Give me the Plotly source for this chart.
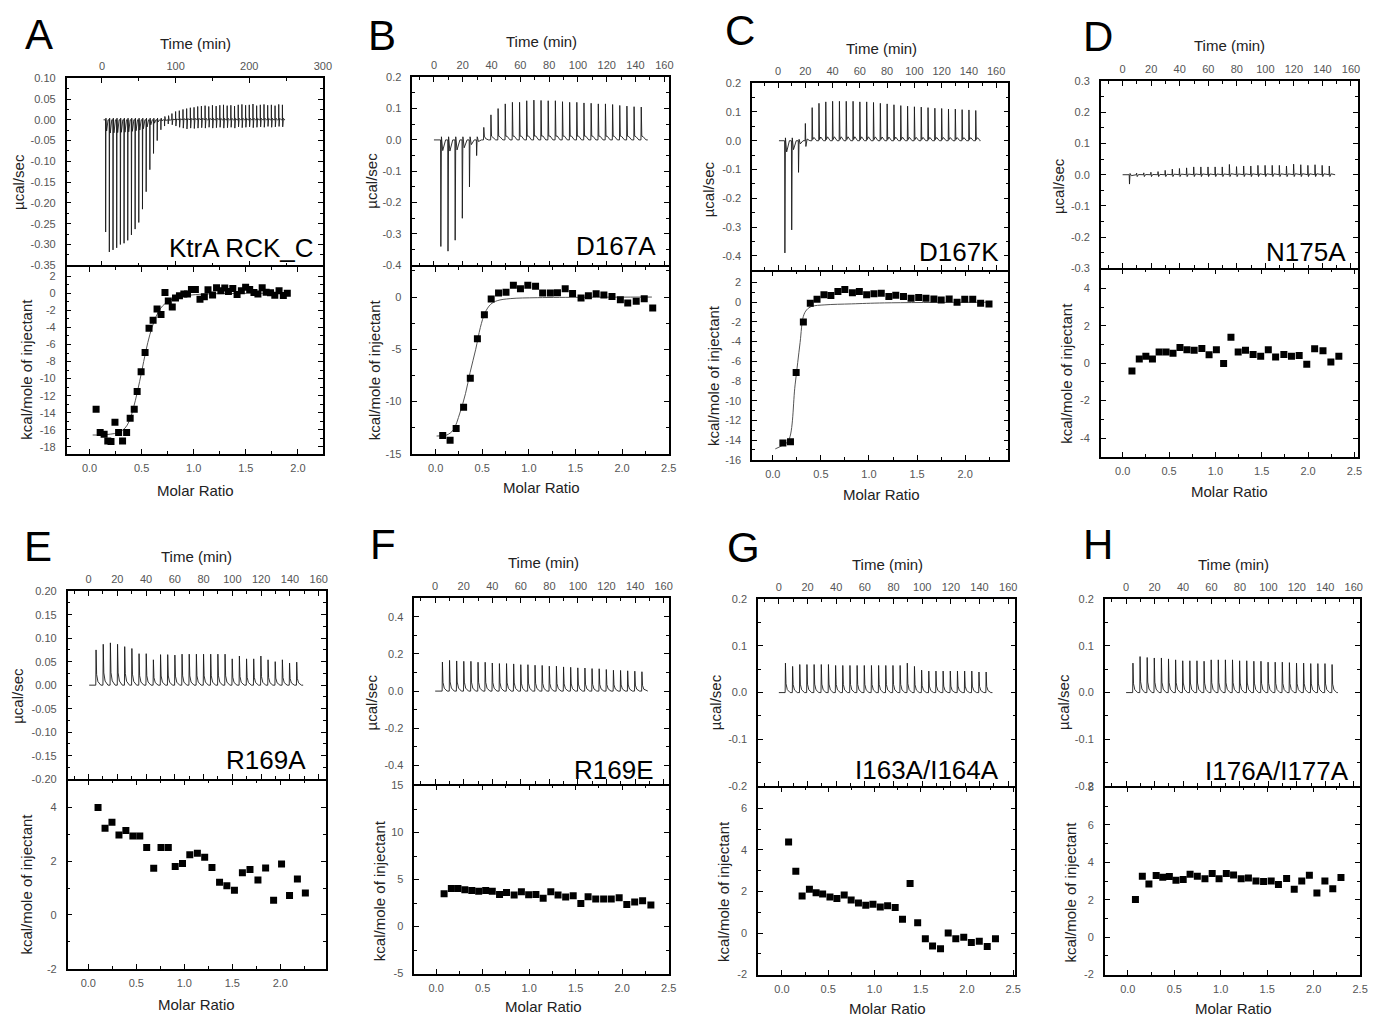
import math
import plotly.graph_objects as go

# the page body keeps its default 8 px margin: the figure's origin sits 8 px in from the window corner
FW, FH = 1377, 1024
BODY = 8

# ---------------- DATA ----------------
labels = ["KtrA RCK_C", "D167A", "D167K", "N175A", "R169A", "R169E", "I163A/I164A", "I176A/I177A"]
letters = ["A", "B", "C", "D", "E", "F", "G", "H"]

# integrated heats (molar ratio, kcal/mol of injectant)
A_ratio = [0.063, 0.102, 0.140, 0.175, 0.206, 0.244, 0.279, 0.317, 0.356, 0.390, 0.429, 0.457, 0.495, 0.533, 0.571,
           0.610, 0.648, 0.686, 0.724, 0.756, 0.794, 0.825, 0.863, 0.905, 0.940, 0.978, 1.016, 1.060, 1.102, 1.137,
           1.181, 1.219, 1.260, 1.298, 1.333, 1.375, 1.416, 1.457, 1.498, 1.537, 1.578, 1.616, 1.657, 1.695, 1.737,
           1.778, 1.819, 1.860, 1.898]
A_heat = [-13.6, -16.3, -16.5, -17.3, -17.35, -15.1, -16.3, -17.3, -16.3, -14.65, -13.6, -11.5, -9.2, -6.95, -4.1,
          -3.15, -1.85, -2.5, 0.08, -0.9, -1.6, -0.55, -0.3, -0.1, -0.1, 0.45, 0.45, -0.7, -0.4, 0.4,
          -0.2, 0.65, 0.3, 0.6, 0.2, 0.55, -0.15, 0.3, 0.7, 0.45, 0.08, -0.08, 0.65, 0.1, 0.05,
          -0.23, 0.3, -0.27, 0.0]
A_fit_ratio = [0.03, 0.10, 0.20, 0.28, 0.34, 0.38, 0.42, 0.46, 0.50, 0.54, 0.58, 0.62, 0.66, 0.70, 0.76, 0.84, 0.95, 1.10, 1.40, 1.90]
A_fit_heat = [-16.6, -16.6, -16.5, -16.3, -15.8, -15.0, -13.5, -11.5, -9.2, -6.8, -4.8, -3.3, -2.2, -1.5, -0.9, -0.5, -0.25, -0.1, -0.03, 0.0]

B_ratio = [0.076, 0.155, 0.220, 0.300, 0.372, 0.448, 0.523, 0.596, 0.675, 0.755, 0.834, 0.910, 0.989, 1.072, 1.148,
           1.231, 1.307, 1.390, 1.469, 1.560, 1.639, 1.722, 1.805, 1.892, 1.982, 2.061, 2.152, 2.238, 2.329]
B_heat = [-13.26, -13.7, -12.57, -10.55, -7.77, -3.98, -1.7, -0.19, 0.38, 0.47, 1.14, 0.79, 1.14, 1.04, 0.38,
          0.38, 0.41, 0.79, 0.35, -0.09, 0.13, 0.32, 0.19, 0.06, -0.25, -0.57, -0.41, -0.16, -1.04]
B_fit_ratio = [0.01, 0.12, 0.19, 0.26, 0.32, 0.37, 0.43, 0.48, 0.53, 0.59, 0.66, 0.80, 1.09, 1.60, 2.32]
B_fit_heat = [-13.3, -13.2, -12.7, -11.1, -9.25, -7.2, -5.0, -2.9, -1.5, -0.7, -0.35, -0.15, -0.06, -0.02, 0.0]

C_ratio = [0.105, 0.184, 0.243, 0.318, 0.390, 0.460, 0.532, 0.604, 0.677, 0.749, 0.828, 0.900, 0.976, 1.052, 1.128,
           1.207, 1.279, 1.359, 1.438, 1.517, 1.593, 1.675, 1.751, 1.834, 1.916, 1.996, 2.079, 2.161, 2.248]
C_heat = [-14.3, -14.17, -7.15, -2.0, -0.1, 0.3, 0.77, 0.67, 1.1, 1.3, 0.96, 1.1, 0.77, 0.86, 0.9,
          0.57, 0.7, 0.57, 0.4, 0.47, 0.4, 0.33, 0.23, 0.33, 0.0, 0.3, 0.3, -0.1, -0.17]
C_fit_ratio = [0.026, 0.095, 0.163, 0.232, 0.284, 0.318, 0.353, 0.404, 0.542, 0.818, 1.162, 2.264]
C_fit_heat = [-14.9, -14.57, -14.07, -8.4, -4.09, -1.43, -0.77, -0.43, -0.27, -0.17, -0.07, 0.0]

D_ratio = [0.100, 0.179, 0.250, 0.321, 0.393, 0.468, 0.543, 0.618, 0.693, 0.771, 0.854, 0.932, 1.011, 1.089, 1.168,
           1.246, 1.325, 1.407, 1.489, 1.571, 1.650, 1.739, 1.821, 1.904, 1.986, 2.071, 2.161, 2.246, 2.332]
D_heat = [-0.42, 0.23, 0.37, 0.23, 0.6, 0.6, 0.53, 0.84, 0.72, 0.69, 0.79, 0.46, 0.72, -0.02, 1.39,
          0.6, 0.69, 0.47, 0.37, 0.72, 0.33, 0.47, 0.37, 0.42, -0.05, 0.77, 0.67, 0.07, 0.37]

E_ratio = [0.101, 0.174, 0.246, 0.319, 0.391, 0.464, 0.536, 0.608, 0.681, 0.757, 0.833, 0.905, 0.981, 1.057, 1.136,
           1.212, 1.288, 1.367, 1.443, 1.522, 1.605, 1.684, 1.767, 1.847, 1.930, 2.013, 2.096, 2.178, 2.261]
E_heat = [4.0, 3.23, 3.45, 2.98, 3.14, 2.94, 2.94, 2.51, 1.74, 2.51, 2.51, 1.80, 1.92, 2.24, 2.30,
          2.15, 1.77, 1.22, 1.09, 0.92, 1.57, 1.69, 1.30, 1.75, 0.55, 1.90, 0.72, 1.34, 0.82]

F_ratio = [0.086, 0.164, 0.235, 0.309, 0.384, 0.458, 0.533, 0.604, 0.682, 0.757, 0.839, 0.917, 0.995, 1.073, 1.151,
           1.233, 1.311, 1.393, 1.474, 1.556, 1.634, 1.716, 1.801, 1.883, 1.968, 2.050, 2.135, 2.220, 2.309]
F_heat = [3.49, 4.06, 4.06, 3.92, 3.85, 3.77, 3.85, 3.77, 3.42, 3.63, 3.35, 3.70, 3.39, 3.42, 3.03,
          3.70, 3.35, 3.14, 3.28, 2.47, 3.17, 2.93, 2.93, 2.93, 3.07, 2.36, 2.61, 2.75, 2.29]

G_ratio = [0.072, 0.150, 0.218, 0.297, 0.369, 0.440, 0.519, 0.594, 0.673, 0.748, 0.827, 0.906, 0.984, 1.063, 1.142,
           1.224, 1.303, 1.385, 1.467, 1.550, 1.628, 1.714, 1.797, 1.879, 1.965, 2.047, 2.133, 2.219, 2.308]
G_heat = [4.38, 2.97, 1.78, 2.11, 1.94, 1.88, 1.74, 1.66, 1.83, 1.59, 1.45, 1.34, 1.39, 1.25, 1.31,
          1.23, 0.66, 2.38, 0.49, -0.28, -0.62, -0.76, 0.0, -0.28, -0.2, -0.46, -0.39, -0.65, -0.28]

H_ratio = [0.082, 0.156, 0.227, 0.305, 0.376, 0.447, 0.518, 0.596, 0.670, 0.748, 0.830, 0.908, 0.982, 1.060, 1.138,
           1.220, 1.298, 1.379, 1.461, 1.543, 1.621, 1.709, 1.791, 1.872, 1.954, 2.035, 2.121, 2.206, 2.294]
H_heat = [2.01, 3.26, 2.85, 3.30, 3.21, 3.24, 3.05, 3.08, 3.37, 3.26, 3.12, 3.40, 3.12, 3.40, 3.33,
          3.12, 3.17, 3.00, 2.98, 3.00, 2.82, 3.14, 2.56, 3.00, 3.31, 2.36, 3.00, 2.59, 3.19]

# raw thermograms: peak height of each injection (µcal/sec) and the opposite excursion after it
A_peaks = [-0.27, -0.318, -0.313, -0.308, -0.30, -0.297, -0.29, -0.277, -0.263, -0.247, -0.215, -0.173, -0.12,
           -0.081, -0.05, -0.024, -0.015, -0.01,
           0.015, 0.02, 0.022, 0.025, 0.027, 0.029, 0.03, 0.032, 0.033, 0.034, 0.032, 0.035, 0.033, 0.035, 0.036,
           0.034, 0.035, 0.033, 0.036, 0.037, 0.035, 0.036, 0.038, 0.034, 0.036, 0.037, 0.035, 0.036, 0.034,
           0.037, 0.036]
A_counter = [0.004] * 16 + [0.008, 0.01,
             -0.012, -0.015, -0.018, -0.02, -0.022, -0.02, -0.021, -0.02, -0.019, -0.02, -0.018, -0.02, -0.019,
             -0.018, -0.02, -0.019, -0.018, -0.02, -0.017, -0.019, -0.018, -0.017, -0.019, -0.018, -0.017, -0.018,
             -0.016, -0.018, -0.017, -0.016, -0.017]
B_peaks = [-0.34, -0.355, -0.32, -0.25, -0.15, -0.05, 0.04, 0.08, 0.10, 0.115, 0.12, 0.12, 0.125, 0.127, 0.126,
           0.125, 0.125, 0.122, 0.12, 0.12, 0.118, 0.117, 0.115, 0.115, 0.113, 0.11, 0.108, 0.106, 0.105]
B_counter = [0.01, 0.01, 0.01, 0.01, 0.01, 0.01] + [0.012] * 23
C_peaks = [-0.39, -0.31, -0.11, 0.06, 0.115, 0.13, 0.135, 0.137, 0.137, 0.137, 0.137, 0.135, 0.135, 0.133, 0.13,
           0.128, 0.125, 0.122, 0.12, 0.118, 0.117, 0.115, 0.113, 0.112, 0.11, 0.11, 0.108, 0.107, 0.105]
C_counter = [0.01, 0.01, 0.005, -0.02] + [0.004] * 25
D_peaks = [-0.03, 0.005, 0.006, 0.008, 0.01, 0.014, 0.018, 0.02, 0.022, 0.025, 0.025, 0.025, 0.025, 0.025, 0.033,
           0.026, 0.028, 0.028, 0.03, 0.03, 0.03, 0.03, 0.028, 0.034, 0.032, 0.03, 0.032, 0.03, 0.028]
D_counter = [0.004] + [-0.006] * 28
E_peaks = [0.075, 0.087, 0.09, 0.087, 0.082, 0.078, 0.067, 0.067, 0.054, 0.065, 0.065, 0.064, 0.066, 0.066, 0.066,
           0.066, 0.066, 0.066, 0.066, 0.056, 0.062, 0.056, 0.056, 0.062, 0.054, 0.05, 0.054, 0.047, 0.049]
F_peaks = [0.156, 0.165, 0.162, 0.16, 0.16, 0.155, 0.155, 0.151, 0.148, 0.148, 0.146, 0.142, 0.142, 0.139, 0.138,
           0.134, 0.134, 0.13, 0.128, 0.125, 0.124, 0.121, 0.12, 0.116, 0.112, 0.111, 0.109, 0.107, 0.104]
G_peaks = [0.063, 0.056, 0.06, 0.06, 0.06, 0.06, 0.06, 0.058, 0.058, 0.058, 0.058, 0.058, 0.058, 0.058, 0.058,
           0.058, 0.058, 0.063, 0.056, 0.048, 0.046, 0.046, 0.046, 0.046, 0.046, 0.046, 0.046, 0.044, 0.044]
H_peaks = [0.063, 0.077, 0.075, 0.074, 0.074, 0.072, 0.07, 0.068, 0.068, 0.068, 0.067, 0.07, 0.07, 0.07, 0.07,
           0.068, 0.068, 0.067, 0.067, 0.065, 0.065, 0.065, 0.064, 0.063, 0.063, 0.062, 0.062, 0.062, 0.06]

# injection schedule (min): first injection, interval, run start, run end
A_sched = (4.8, 5.0, 2.2, 247.5)
B_sched = (4.6, 4.97, 0.0, 148.5)
C_sched = (4.85, 5.0, 0.7, 147.9)
D_sched = (4.6, 5.0, 0.0, 148.9)
E_sched = (5.07, 4.98, 0.5, 149.2)
F_sched = (4.87, 4.99, 0.0, 148.9)
G_sched = (4.4, 5.0, 0.0, 149.0)
H_sched = (4.6, 5.0, 0.0, 148.9)

# ---------------- LAYOUT SPECS (window pixels) ----------------
FONT = "Arial, Liberation Sans, Helvetica, sans-serif"
LW = 1.5  # frame line width

panels = [
    dict(box=(67, 325, 73, 263, 453), trange=[-48, 300], tt=(0, 300, 100, 50, "{:.0f}"),
         mrange=[-0.22, 2.24], yt=[-0.35, 0.10], ytt=(-0.35, 0.10, 0.05, 0.025, "{:.2f}"),
         yb=[-18.8, 3.1], ybt=(-18, 2, 2, 1, "{:.0f}"),
         peaks=A_peaks, counter=A_counter, sched=A_sched, ratio=A_ratio, heat=A_heat,
         fit=(A_fit_ratio, A_fit_heat)),
    dict(box=(415, 673, 72, 263, 453), trange=[-15, 163], tt=(0, 160, 20, 10, "{:.0f}"),
         mrange=[-0.25, 2.5], yt=[-0.4, 0.2], ytt=(-0.4, 0.2, 0.1, 0.05, "{:.1f}"),
         yb=[-15, 2.9], ybt=(-15, 0, 5, 2.5, "{:.0f}"),
         peaks=B_peaks, counter=B_counter, sched=B_sched, ratio=B_ratio, heat=B_heat,
         fit=(B_fit_ratio, B_fit_heat)),
    dict(box=(757, 1015, 78, 268, 459), trange=[-19, 169], tt=(-20, 160, 20, 10, "{:.0f}"),
         mrange=[-0.215, 2.45], yt=[-0.45, 0.2], ytt=(-0.4, 0.2, 0.1, 0.05, "{:.1f}"),
         yb=[-16, 3.1], ybt=(-16, 2, 2, 1, "{:.0f}"),
         peaks=C_peaks, counter=C_counter, sched=C_sched, ratio=C_ratio, heat=C_heat,
         fit=(C_fit_ratio, C_fit_heat)),
    dict(box=(1108, 1367, 76, 266, 456), trange=[-15.3, 165], tt=(0, 160, 20, 10, "{:.0f}"),
         mrange=[-0.236, 2.54], yt=[-0.3, 0.3], ytt=(-0.3, 0.3, 0.1, 0.05, "{:.1f}"),
         yb=[-5, 5], ybt=(-4, 4, 2, 1, "{:.0f}"),
         peaks=D_peaks, counter=D_counter, sched=D_sched, ratio=D_ratio, heat=D_heat, fit=None),
    dict(box=(68, 328, 592, 783, 974), trange=[-14.5, 165], tt=(0, 160, 20, 10, "{:.0f}"),
         mrange=[-0.216, 2.475], yt=[-0.2, 0.2], ytt=(-0.2, 0.2, 0.05, 0.025, "{:.2f}"),
         yb=[-2, 5], ybt=(-2, 4, 2, 1, "{:.0f}"),
         peaks=E_peaks, counter=None, sched=E_sched, ratio=E_ratio, heat=E_heat, fit=None),
    dict(box=(417, 673, 599, 788, 979), trange=[-14.6, 163.5], tt=(0, 160, 20, 10, "{:.0f}"),
         mrange=[-0.234, 2.5], yt=[-0.5, 0.5], ytt=(-0.4, 0.4, 0.2, 0.1, "{:.1f}"),
         yb=[-5, 15], ybt=(-5, 15, 5, 2.5, "{:.0f}"),
         peaks=F_peaks, counter=None, sched=F_sched, ratio=F_ratio, heat=F_heat, fit=None),
    dict(box=(763, 1022, 600, 790, 980), trange=[-14.5, 165], tt=(0, 160, 20, 10, "{:.0f}"),
         mrange=[-0.258, 2.523], yt=[-0.2, 0.2], ytt=(-0.2, 0.2, 0.1, 0.05, "{:.1f}"),
         yb=[-2, 7], ybt=(-2, 6, 2, 1, "{:.0f}"),
         peaks=G_peaks, counter=None, sched=G_sched, ratio=G_ratio, heat=G_heat, fit=None),
    dict(box=(1112, 1369, 600, 790, 980), trange=[-15, 164.5], tt=(0, 160, 20, 10, "{:.0f}"),
         mrange=[-0.248, 2.5], yt=[-0.2, 0.2], ytt=(-0.2, 0.2, 0.1, 0.05, "{:.1f}"),
         yb=[-2, 8], ybt=(-2, 8, 2, 1, "{:.0f}"),
         peaks=H_peaks, counter=None, sched=H_sched, ratio=H_ratio, heat=H_heat, fit=None),
]

# text positions (window pixels)
letter_pos = [(23, 29), (368, 30), (728, 25), (1088, 31), (22, 547), (370, 545), (730, 548), (1088, 545)]
time_pos = [(197, 38), (545, 36), (887, 43), (1238, 40), (198, 557), (547, 563), (893, 565), (1242, 565)]
ucal_pos = [(18, 178), (373, 177), (714, 185), (1066, 182), (18, 698), (374, 705), (721, 704), (1071, 704)]
kcal_pos = [(27, 367), (377, 368), (718, 374), (1074, 372), (27, 888), (382, 895), (728, 896), (1078, 897)]
molar_pos = [(197, 490), (545, 487), (887, 494), (1238, 491), (198, 1010), (547, 1012), (893, 1014), (1242, 1014)]
label_pos = [(318, 245), (662, 243), (1008, 249), (1357, 249), (310, 763), (660, 773), (1008, 773), (1360, 774)]


def px_x(px):
    return (px - BODY) / FW


def px_y(py):
    return 1 - (py - BODY) / FH


def tick_list(lo, hi, step, fmt):
    n = int(round((hi - lo) / step))
    vals = [round(lo + i * step, 6) for i in range(n + 1)]
    txt = [fmt.format(0.0 if abs(v) < 1e-9 else v) for v in vals]
    return vals, txt


def minor_list(rng, step):
    lo, hi = min(rng), max(rng)
    k = math.ceil(lo / step - 1e-9)
    out = []
    while k * step <= hi + 1e-9:
        out.append(round(k * step, 6))
        k += 1
    return out


def thermogram(peaks, counter, sched):
    t_first, t_step, t_start, t_end = sched
    xs, ys = [t_start], [0.0]
    for k, p in enumerate(peaks):
        t = t_first + k * t_step
        c = counter[k] if counter is not None else 0.3 * p
        xs += [t, t + 0.2, t + 0.6, t + 1.5, t + 3.5]
        ys += [0.0, p, c, 0.1 * p, 0.0]
    xs.append(t_end)
    ys.append(0.0)
    return xs, ys


common = dict(showline=True, linecolor="black", linewidth=LW, mirror="ticks", ticks="inside",
              ticklen=5, tickwidth=1, tickcolor="black", showgrid=False, zeroline=False,
              tickfont=dict(family=FONT, size=11, color="#555555"), fixedrange=True)


def minor_cfg(vals):
    return dict(tickmode="array", tickvals=vals, ticks="inside", ticklen=3, tickwidth=1, tickcolor="black")


def ax_name(prefix, k):
    return prefix if k == 1 else f"{prefix}{k}"


fig = go.Figure()
layout = {}
annotations = []


def ann(text, pos, size, color="#222222", angle=0, xanchor="center", yanchor="middle"):
    annotations.append(dict(text=text, x=px_x(pos[0]), y=px_y(pos[1]), xref="paper", yref="paper",
                            showarrow=False, textangle=angle, xanchor=xanchor, yanchor=yanchor,
                            font=dict(family=FONT, size=size, color=color)))


for i, p in enumerate(panels):
    kt, kb = 2 * i + 1, 2 * i + 2
    x0, x1, top, mid, bot = p["box"]
    xd = [px_x(x0), px_x(x1)]

    # top: raw thermogram
    tx, ty = thermogram(p["peaks"], p["counter"], p["sched"])
    fig.add_trace(go.Scatter(x=tx, y=ty, mode="lines", line=dict(color="#1a1a1a", width=0.9),
                             xaxis=ax_name("x", kt), yaxis=ax_name("y", kt), showlegend=False, hoverinfo="skip"))
    # bottom: integrated heats with fit
    if p["fit"] is not None:
        fig.add_trace(go.Scatter(x=p["fit"][0], y=p["fit"][1], mode="lines", line=dict(color="#555555", width=1),
                                 xaxis=ax_name("x", kb), yaxis=ax_name("y", kb), showlegend=False,
                                 hoverinfo="skip", line_shape="spline"))
    fig.add_trace(go.Scatter(x=p["ratio"], y=p["heat"], mode="markers",
                             marker=dict(symbol="square", size=7, color="black"),
                             xaxis=ax_name("x", kb), yaxis=ax_name("y", kb), showlegend=False))

    # the shared divider: shift both domains by half a line width so the two frame lines coincide
    tv, tt = tick_list(*p["tt"][:3], p["tt"][4])
    layout[ax_name("xaxis", kt)] = dict(common, domain=xd, anchor=ax_name("y", kt), side="top",
                                        range=p["trange"], tickmode="array", tickvals=tv, ticktext=tt,
                                        ticklabelstandoff=2,
                                        minor=minor_cfg(minor_list(p["trange"], p["tt"][3])))
    yv, yt = tick_list(*p["ytt"][:3], p["ytt"][4])
    layout[ax_name("yaxis", kt)] = dict(common, domain=[px_y(mid - LW / 2), px_y(top)], anchor=ax_name("x", kt),
                                        range=p["yt"], tickmode="array", tickvals=yv, ticktext=yt,
                                        ticklabelstandoff=7,
                                        minor=minor_cfg(minor_list(p["yt"], p["ytt"][3])))
    mv, mt = tick_list(0.0, 2.5 if p["mrange"][1] >= 2.44 else 2.0, 0.5, "{:.1f}")
    layout[ax_name("xaxis", kb)] = dict(common, domain=xd, anchor=ax_name("y", kb), side="bottom",
                                        range=p["mrange"], tickmode="array", tickvals=mv, ticktext=mt,
                                        ticklabelstandoff=3,
                                        minor=minor_cfg(minor_list(p["mrange"], 0.25)))
    bv, bt = tick_list(*p["ybt"][:3], p["ybt"][4])
    layout[ax_name("yaxis", kb)] = dict(common, domain=[px_y(bot), px_y(mid + LW / 2)], anchor=ax_name("x", kb),
                                        range=p["yb"], tickmode="array", tickvals=bv, ticktext=bt,
                                        ticklabelstandoff=7,
                                        minor=minor_cfg(minor_list(p["yb"], p["ybt"][3])))

    ann(letters[i], letter_pos[i], 42, color="black", xanchor="left")
    ann("Time (min)", time_pos[i], 15)
    ann("µcal/sec", ucal_pos[i], 15, angle=-90)
    ann("kcal/mole of injectant", kcal_pos[i], 15, angle=-90)
    ann("Molar Ratio", molar_pos[i], 15)
    ann(labels[i], label_pos[i], 26, color="black", xanchor="right")

fig.update_layout(width=FW, height=FH, margin=dict(l=0, r=0, t=0, b=0), autosize=False,
                  paper_bgcolor="white", plot_bgcolor="white", annotations=annotations,
                  font=dict(family=FONT), **layout)

fig.write_html("out.html")
